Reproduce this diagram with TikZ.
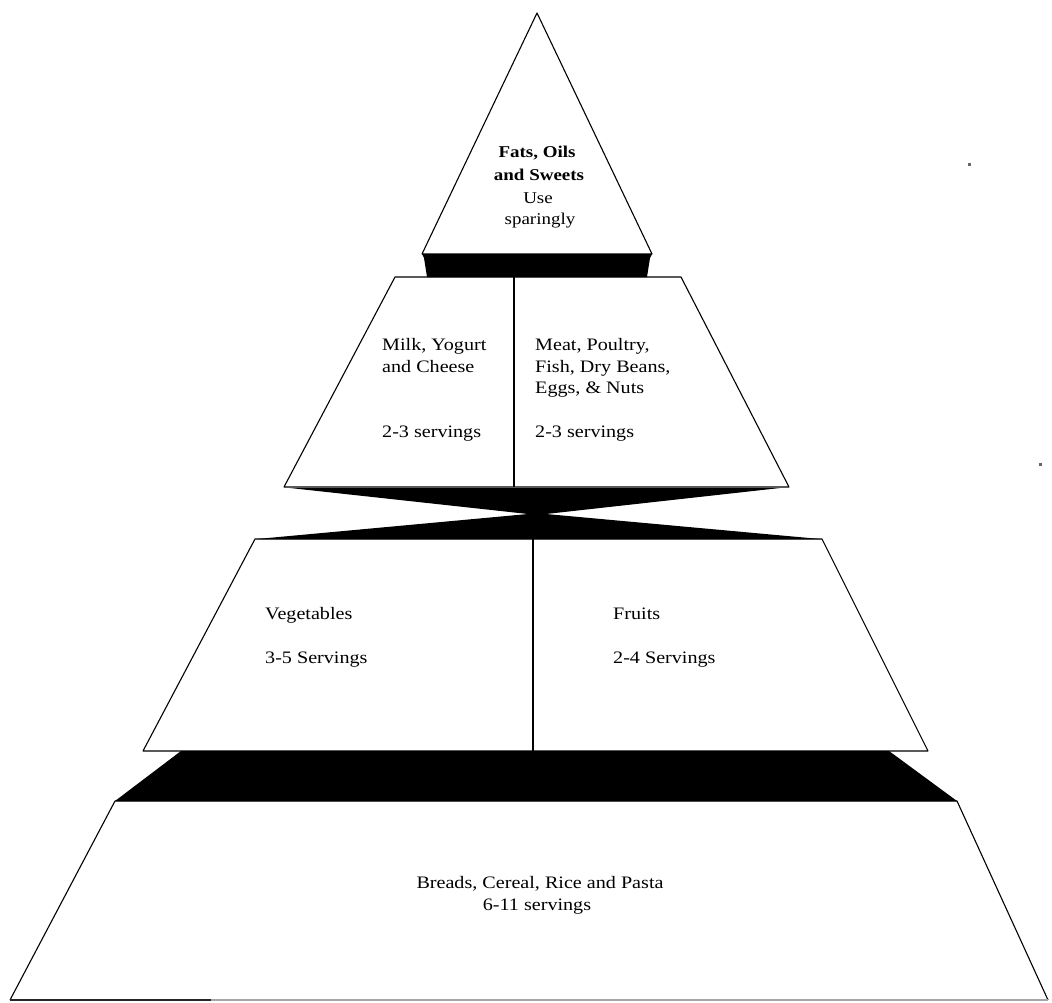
\documentclass[tikz,border=0pt]{standalone}
\usepackage{fontspec}
\setmainfont{Liberation Serif}[FakeStretch=1.15]
\begin{document}
\begin{tikzpicture}[x=1pt,y=-1pt, line join=round,
  edge/.style={draw=black, line width=1.1pt},
  divider/.style={draw=black, line width=1.8pt},
  lbl/.style={font=\fontsize{17.5}{21}\selectfont, inner sep=0pt, anchor=base west},
  clbl/.style={font=\fontsize{17.5}{21}\selectfont, inner sep=0pt, anchor=base},
  ]
\useasboundingbox (0,0) rectangle (1052,1003);
\fill[white] (0,0) rectangle (1052,1003);

% --- top triangle ---
\coordinate (apex) at (537,13);
\coordinate (tL) at (422,254);
\coordinate (tR) at (652,254);
\draw[edge] (apex) -- (tR) -- (tL) -- cycle;
\fill (tL) -- (tR) -- (650,258) -- (647,277) -- (427,277) -- (424,258) -- cycle;

% --- tier 2 ---
\coordinate (aTL) at (395,277);
\coordinate (aTR) at (681,277);
\coordinate (aBR) at (789,487);
\coordinate (aBL) at (284,487);
\draw[edge] (aTL) -- (aTR) -- (aBR) -- (aBL) -- cycle;
\coordinate (aDt) at (514,277);
\coordinate (aDb) at (514,487);
\draw[divider] (aDt) -- (aDb);

% --- bow tie ---
\fill (290,488) -- (780,488) -- (546,514) -- (820,539) -- (257,539) -- (528,514) -- cycle;

% --- tier 3 ---
\coordinate (bTL) at (255,539);
\coordinate (bTR) at (822,539);
\coordinate (bBR) at (928,751);
\coordinate (bBL) at (143,751);
\draw[edge] (bTL) -- (bTR) -- (bBR) -- (bBL) -- cycle;
\coordinate (bDt) at (533,539);
\coordinate (bDb) at (533,751);
\draw[draw=black, line width=1.4pt] (bDt) -- (bDb);

% --- band 3 ---
\fill (181,751) -- (889,751) -- (957,801) -- (115,801) -- cycle;

% --- tier 4 ---
\coordinate (cTL) at (115,801);
\coordinate (cTR) at (957,801);
\coordinate (cBR) at (1048,1000);
\coordinate (cBL) at (10,1000);
\draw[edge] (cBR) -- (cTR) -- (cTL) -- (cBL);
\draw[draw=black!35, line width=1.2pt] (cBL) -- (cBR);
\coordinate (cBm) at (211,1000);
\draw[draw=black!85, line width=2.4pt] (cBL) -- (cBm);

% specks
\fill[black!60] (968,163) rectangle (971,166);
\fill[black!60] (1039,463) rectangle (1042,466);

% --- texts ---
\node[clbl, font=\fontsize{16.5}{20}\selectfont\bfseries] (fats1) at (537,158) {Fats, Oils};
\node[clbl, font=\fontsize{16.5}{20}\selectfont\bfseries] (fats2) at (539,181) {and Sweets};
\node[clbl, font=\fontsize{16.5}{20}\selectfont] (fats3) at (538,204) {Use};
\node[clbl, font=\fontsize{16.5}{20}\selectfont] (fats4) at (540,225) {sparingly};

\node[lbl] (milk1) at (382,350) {Milk, Yogurt};
\node[lbl] (milk2) at (382,372) {and Cheese};
\node[lbl] (milk3) at (382,437) {2-3 servings};

\node[lbl] (meat1) at (535,350) {Meat, Poultry,};
\node[lbl] (meat2) at (535,372) {Fish, Dry Beans,};
\node[lbl] (meat3) at (535,393) {Eggs, \& Nuts};
\node[lbl] (meat4) at (535,437) {2-3 servings};

\node[lbl] (veg1) at (265,619) {Vegetables};
\node[lbl] (veg2) at (265,663) {3-5 Servings};

\node[lbl] (fru1) at (613,619) {Fruits};
\node[lbl] (fru2) at (613,663) {2-4 Servings};

\node[clbl] (br1) at (540,888) {Breads, Cereal, Rice and Pasta};
\node[clbl] (br2) at (537,910) {6-11 servings};
\end{tikzpicture}
\end{document}
